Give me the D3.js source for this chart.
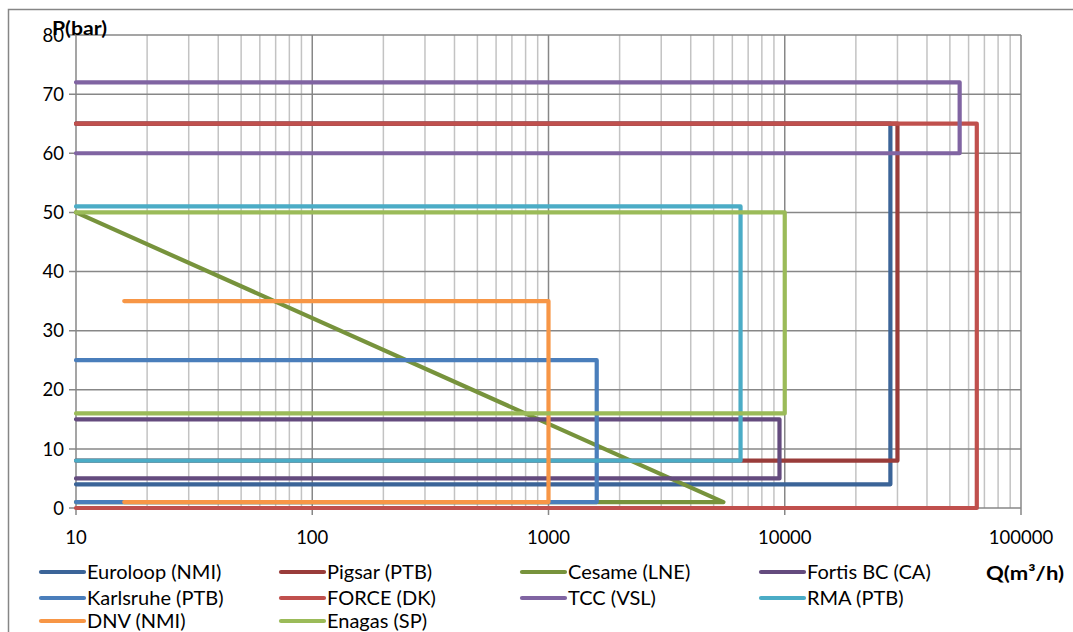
<!DOCTYPE html>
<html><head><meta charset="utf-8">
<script src="https://cdn.jsdelivr.net/npm/d3@7"></script>
<style>body{margin:0;background:#fff}svg{display:block}text{font-family:Lato,"Open Sans",sans-serif}</style>
</head><body><svg id="c" width="1073" height="632"></svg>
<script>
const seriesNames = ["Euroloop (NMI)","Pigsar (PTB)","Cesame (LNE)","Fortis BC (CA)","Karlsruhe (PTB)","FORCE (DK)","TCC (VSL)","RMA (PTB)","DNV (NMI)","Enagas (SP)"];
const seriesColors = ["#3b6498","#993c3a","#77933c","#644b7e","#4a7ebb","#c0504d","#8064a2","#4bacc6","#f79646","#9bbb59"];
const euroloop = [[10,4],[28000,4],[28000,65],[10,65]];
const pigsar = [[10,8],[30000,8],[30000,65],[10,65]];
const cesame = [[10,50],[5500,1],[10,1]];
const fortis = [[10,15],[9500,15],[9500,5],[10,5]];
const karlsruhe = [[10,25],[1600,25],[1600,1],[10,1]];
const force = [[10,0],[65000,0],[65000,65],[10,65]];
const tcc = [[10,72],[55000,72],[55000,60],[10,60]];
const rma = [[10,51],[6500,51],[6500,8],[10,8]];
const dnv = [[16,35],[1000,35],[1000,1],[16,1]];
const enagas = [[10,50],[10000,50],[10000,16],[10,16]];
const seriesData = [euroloop,pigsar,cesame,fortis,karlsruhe,force,tcc,rma,dnv,enagas];
const xTicks = [10,100,1000,10000,100000];
const yTicks = [0,10,20,30,40,50,60,70,80];

const svg = d3.select("#c");
svg.append("rect").attr("x",8.5).attr("y",9.5).attr("width",1080).attr("height",640)
  .attr("fill","#fff").attr("stroke","#868686").attr("stroke-width",1.5);

const x = d3.scaleLog().domain([10,100000]).range([76,1021]);
const y = d3.scaleLinear().domain([0,80]).range([508,35]);

// minor vertical grid
const minor = [];
for (let d=10; d<100000; d*=10) for (let k=2;k<=9;k++) minor.push(d*k);
svg.append("g").selectAll("line").data(minor).join("line")
  .attr("x1",d=>x(d)).attr("x2",d=>x(d)).attr("y1",y(0)).attr("y2",y(80))
  .attr("stroke","#c3c3c3").attr("stroke-width",1.5);
// horizontal major grid
svg.append("g").selectAll("line").data(yTicks).join("line")
  .attr("x1",x(10)-7).attr("x2",x(100000)).attr("y1",d=>y(d)).attr("y2",d=>y(d))
  .attr("stroke","#878787").attr("stroke-width",1.5);
// vertical major grid
svg.append("g").selectAll("line").data(xTicks).join("line")
  .attr("x1",d=>x(d)).attr("x2",d=>x(d)).attr("y1",y(0)+7).attr("y2",y(80))
  .attr("stroke","#878787").attr("stroke-width",1.5);

// axes labels
svg.append("g").selectAll("text").data(yTicks).join("text")
  .attr("x",64).attr("y",d=>y(d)).attr("dy","0.36em").attr("text-anchor","end")
  .attr("font-size",18.5).attr("fill","#000").text(d=>d);
svg.append("g").selectAll("text").data(xTicks).join("text")
  .attr("x",d=>x(d)).attr("y",544).attr("text-anchor","middle")
  .attr("font-size",18.5).attr("fill","#000").text(d=>d);

// series
const line = d3.line().x(d=>x(d[0])).y(d=>y(d[1]));
svg.append("g").selectAll("path").data(seriesData).join("path")
  .attr("d",line).attr("fill","none").attr("stroke",(d,i)=>seriesColors[i])
  .attr("stroke-width",4.2).attr("stroke-linejoin","round").attr("stroke-linecap","round");

// axis titles
svg.append("text").attr("x",52).attr("y",35).attr("font-size",19).attr("font-weight","bold")
  .attr("textLength",55).attr("lengthAdjust","spacingAndGlyphs").text("P(bar)");
svg.append("text").attr("x",986).attr("y",580).attr("font-size",19).attr("font-weight","bold")
  .attr("textLength",78).attr("lengthAdjust","spacingAndGlyphs").text("Q(m³/h)");

// legend
const colX = [40,280,521,760];
const rowY = [572,598,621];
const lg = svg.append("g").selectAll("g").data(seriesNames).join("g")
  .attr("transform",(d,i)=>`translate(${colX[i%4]},${rowY[Math.floor(i/4)]})`);
lg.append("line").attr("x1",1).attr("x2",44).attr("y1",0).attr("y2",0)
  .attr("stroke",(d,i)=>seriesColors[i]).attr("stroke-width",4.2).attr("stroke-linecap","round");
lg.append("text").attr("x",47).attr("y",0).attr("dy","0.36em").attr("font-size",20).attr("fill","#000").text(d=>d);
</script></body></html>
